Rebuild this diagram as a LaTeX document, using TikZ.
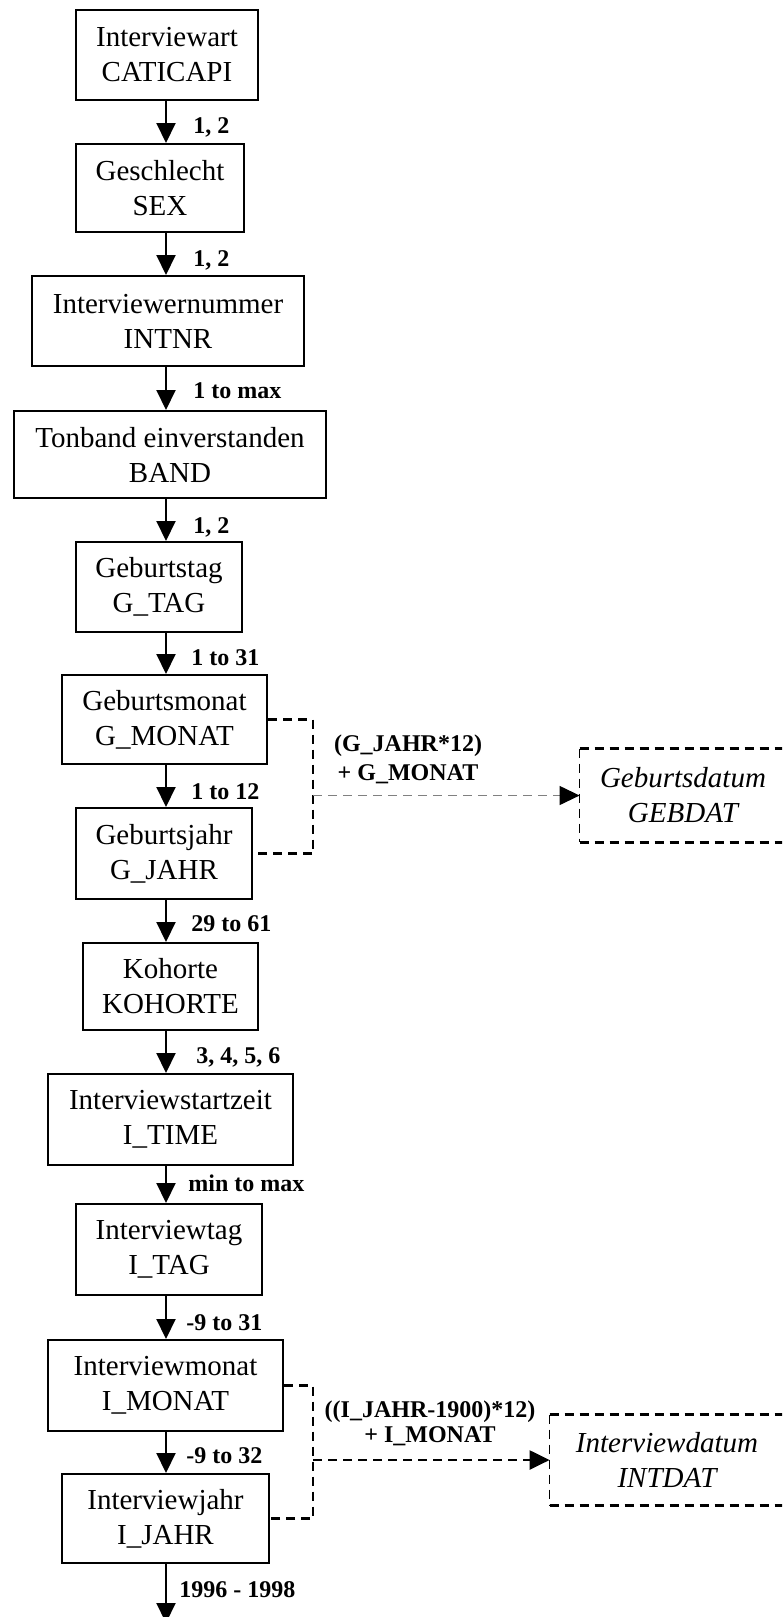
\documentclass[tikz,border=0pt]{standalone}
\usepackage{fontspec}
\setmainfont{Liberation Serif}
\usetikzlibrary{arrows.meta}
\begin{document}
\begin{tikzpicture}[x=0.5pt,y=-0.5pt,
  box/.style={draw,line width=1pt,inner sep=0pt,align=center,
    font=\fontsize{14.5}{17.5}\selectfont},
  dbox/.style={inner sep=0pt,align=center,
    font=\fontsize{14.5}{17.5}\selectfont\itshape},
  lab/.style={inner sep=0pt,anchor=base west,font=\fontsize{12}{14}\selectfont\bfseries},
  flab/.style={inner sep=0pt,align=center,font=\fontsize{12}{14.5}\selectfont\bfseries},
  arr/.style={line width=1pt,-{Triangle[length=10pt,width=9.5pt]}},
  dthick/.style={line width=1.3pt,dash pattern=on 4.5pt off 3pt},
  dthin/.style={line width=0.7pt,dash pattern=on 4.5pt off 3pt},
  brk/.style={line width=1.1pt,dash pattern=on 4.5pt off 3pt},
  darr/.style={dash pattern=on 4.5pt off 3pt,-{Triangle[length=10pt,width=9.5pt,color=black]}}
]
\useasboundingbox (0,0) rectangle (782,1617);
\clip (0,0) rectangle (782,1617);
\coordinate (ax) at (166,0);
\coordinate (bx) at (313,0);
\coordinate (endpt) at (166,1623);

\node[box,minimum width=91pt,minimum height=45pt] (b1) at (167,55) {Interviewart\\CATICAPI};
\node[box,minimum width=84pt,minimum height=44pt] (b2) at (160,188) {Geschlecht\\SEX};
\node[box,minimum width=136pt,minimum height=45pt] (b3) at (168,321) {Interviewernummer\\INTNR};
\node[box,minimum width=156pt,minimum height=43.5pt] (b4) at (170,454.5) {Tonband einverstanden\\BAND};
\node[box,minimum width=83pt,minimum height=45pt] (b5) at (159,587) {Geburtstag\\G\_TAG};
\node[box,minimum width=102.5pt,minimum height=44.5pt] (b6) at (164.5,719.5) {Geburtsmonat\\G\_MONAT};
\node[box,minimum width=88pt,minimum height=45.5pt] (b7) at (164,853.5) {Geburtsjahr\\G\_JAHR};
\node[box,minimum width=87.5pt,minimum height=43.5pt] (b8) at (170.5,986.5) {Kohorte\\KOHORTE};
\node[box,minimum width=122.5pt,minimum height=45.5pt] (b9) at (170.5,1119.5) {Interviewstartzeit\\I\_TIME};
\node[box,minimum width=93pt,minimum height=45.5pt] (b10) at (169,1249.5) {Interviewtag\\I\_TAG};
\node[box,minimum width=117.5pt,minimum height=45.5pt] (b11) at (165.5,1385.5) {Interviewmonat\\I\_MONAT};
\node[box,minimum width=103.5pt,minimum height=44.5pt] (b12) at (165.5,1518.5) {Interviewjahr\\I\_JAHR};

\node[dbox,minimum width=103pt,minimum height=46.5pt] (geb) at (683,795.5) {Geburtsdatum\\GEBDAT};
\node[dbox,minimum width=117pt,minimum height=45pt] (int) at (667,1460) {Interviewdatum\\INTDAT};
\draw[dthick] (geb.north west) -- (geb.north east) (geb.south west) -- (geb.south east);
\draw[dthin] (geb.north west) -- (geb.south west);
\draw[dthick] (int.north west) -- (int.north east) (int.south west) -- (int.south east);
\draw[dthin] (int.north west) -- (int.south west);

\draw[arr] (b1.south -| ax) -- (b2.north -| ax);
\draw[arr] (b2.south -| ax) -- (b3.north -| ax);
\draw[arr] (b3.south -| ax) -- (b4.north -| ax);
\draw[arr] (b4.south -| ax) -- (b5.north -| ax);
\draw[arr] (b5.south -| ax) -- (b6.north -| ax);
\draw[arr] (b6.south -| ax) -- (b7.north -| ax);
\draw[arr] (b7.south -| ax) -- (b8.north -| ax);
\draw[arr] (b8.south -| ax) -- (b9.north -| ax);
\draw[arr] (b9.south -| ax) -- (b10.north -| ax);
\draw[arr] (b10.south -| ax) -- (b11.north -| ax);
\draw[arr] (b11.south -| ax) -- (b12.north -| ax);
\draw[arr] (b12.south -| ax) -- (endpt);

\node[lab] (l1) at (193,133) {1, 2};
\node[lab] (l2) at (193,266) {1, 2};
\node[lab] (l3) at (193,398) {1 to max};
\node[lab] (l4) at (193,533) {1, 2};
\node[lab] (l5) at (191,665) {1 to 31};
\node[lab] (l6) at (191,799) {1 to 12};
\node[lab] (l7) at (191,931) {29 to 61};
\node[lab] (l8) at (196,1063) {3, 4, 5, 6};
\node[lab] (l9) at (188,1191) {min to max};
\node[lab] (l10) at (186,1330) {-9 to 31};
\node[lab] (l11) at (186,1463) {-9 to 32};
\node[lab] (l12) at (179,1597) {1996 - 1998};

\draw[brk] (b6.east) -- (b6.east -| bx) -- (b7.east -| bx) -- (b7.east);
\draw[darr,line width=0.6pt,black!50] (bx |- geb.west) -- (geb.west);
\node[flab] (f1) at (408,759) {(G\_JAHR*12)\\+ G\_MONAT};

\draw[brk] (b11.east) -- (b11.east -| bx) -- (b12.east -| bx) -- (b12.east);
\draw[darr,line width=1.2pt] (bx |- int.west) -- (int.west);
\node[flab,font=\fontsize{12}{12.5}\selectfont\bfseries] (f2) at (430,1423) {((I\_JAHR-1900)*12)\\+ I\_MONAT};
\end{tikzpicture}
\end{document}
